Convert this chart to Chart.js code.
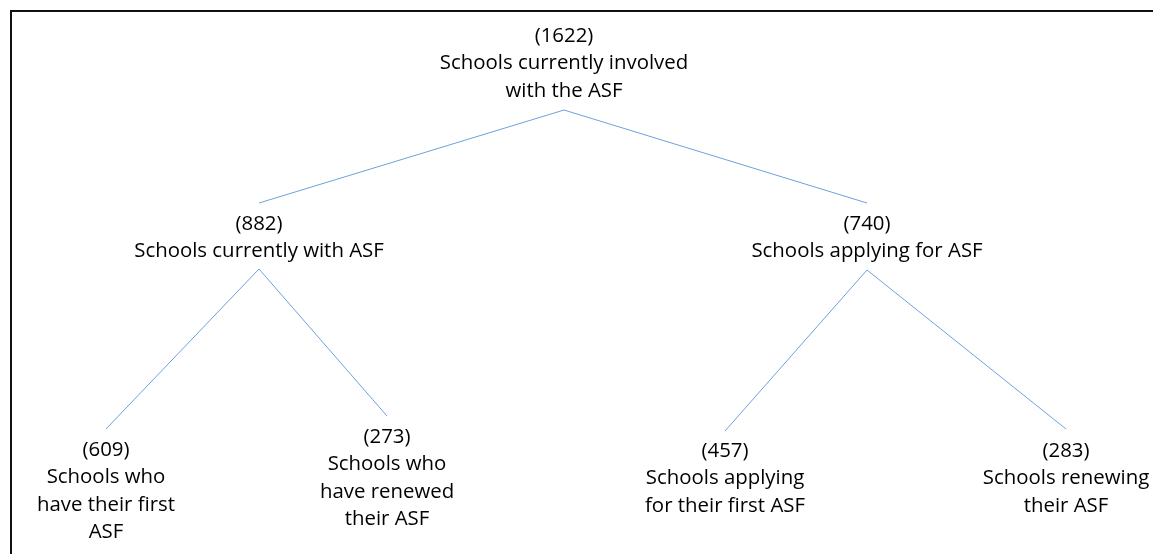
<!DOCTYPE html>
<html>
<head>
<meta charset="utf-8">
<script src="https://cdn.jsdelivr.net/npm/chart.js@4.4.0/dist/chart.umd.min.js"></script>
<style>
  html, body { margin: 0; padding: 0; background: #fff; }
  #wrap { position: relative; width: 1153px; height: 554px; }
</style>
</head>
<body>
<div id="wrap"><canvas id="treeChart" width="1153" height="554"></canvas></div>
<script>
// tree data
const nodeCounts = [1622, 882, 740, 609, 273, 457, 283];
const nodeLabels = [
    ['Schools currently involved', 'with the ASF'],
    ['Schools currently with ASF'],
    ['Schools applying for ASF'],
    ['Schools who', 'have their first', 'ASF'],
    ['Schools who', 'have renewed', 'their ASF'],
    ['Schools applying', 'for their first ASF'],
    ['Schools renewing', 'their ASF']
];
const nodeParent = [null, 0, 0, 1, 1, 2, 2];

// layout (scale units)
const nodeX = [564, 259, 867, 106, 387, 725, 1066];
const textY = [36, 224, 224, 450, 437, 451, 451];
const edgeInY = [null, 203, 203, 429, 416, 431, 429];
const edgeOutY = [110, 269, 270, null, null, null, null];

const lineColor = '#6fa0dc';
const textColor = '#000';
const fontFamily = '"Open Sans", Lato, sans-serif';
const fontSize = 20.4;
const lineGap = 27.5;

const edgeSets = [];
nodeParent.forEach(function (p, i) {
    if (p === null) return;
    edgeSets.push({
        data: [{x: nodeX[p], y: edgeOutY[p]}, {x: nodeX[i], y: edgeInY[i]}],
        showLine: true,
        borderColor: lineColor,
        borderWidth: 1,
        pointRadius: 0,
        pointHoverRadius: 0,
        fill: false
    });
});

const framePlugin = {
    id: 'frame',
    beforeDraw(chart) {
        const ctx = chart.ctx;
        ctx.save();
        ctx.strokeStyle = '#111';
        ctx.lineWidth = 2;
        ctx.beginPath();
        ctx.moveTo(11, 554);
        ctx.lineTo(11, 11);
        ctx.lineTo(1153, 11);
        ctx.stroke();
        ctx.restore();
    }
};

const nodeTextPlugin = {
    id: 'nodeText',
    afterDatasetsDraw(chart) {
        const ctx = chart.ctx;
        const xs = chart.scales.x, ys = chart.scales.y;
        ctx.save();
        ctx.fillStyle = textColor;
        ctx.font = fontSize + 'px ' + fontFamily;
        ctx.textAlign = 'center';
        ctx.textBaseline = 'middle';
        nodeCounts.forEach(function (c, i) {
            const px = xs.getPixelForValue(nodeX[i]);
            const py = ys.getPixelForValue(textY[i]);
            const lines = ['(' + c + ')'].concat(nodeLabels[i]);
            lines.forEach(function (t, k) {
                ctx.fillText(t, px, py + k * lineGap);
            });
        });
        ctx.restore();
    }
};

new Chart(document.getElementById('treeChart').getContext('2d'), {
    type: 'scatter',
    data: { datasets: edgeSets },
    options: {
        responsive: false,
        animation: false,
        layout: { padding: 0 },
        plugins: {
            legend: { display: false },
            tooltip: { enabled: false }
        },
        scales: {
            x: { type: 'linear', min: 0, max: 1153, display: false },
            y: { type: 'linear', min: 0, max: 554, reverse: true, display: false }
        }
    },
    plugins: [framePlugin, nodeTextPlugin]
});
</script>
</body>
</html>
